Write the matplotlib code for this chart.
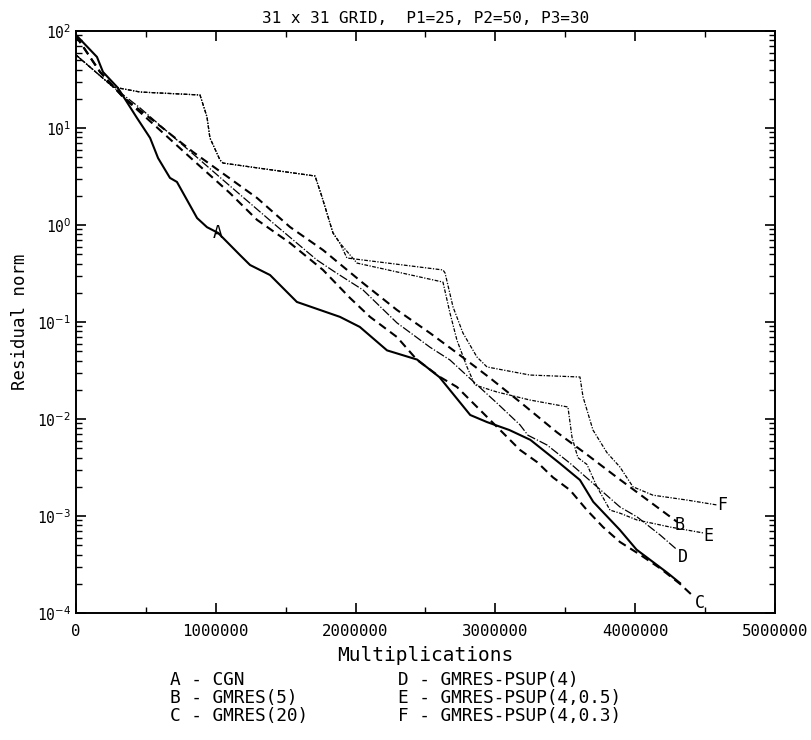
import matplotlib
matplotlib.use("Agg")
import matplotlib.pyplot as plt
from matplotlib.ticker import LogLocator, NullFormatter, MultipleLocator

plt.rcParams['font.family'] = ['DejaVu Sans Mono']
plt.rcParams['mathtext.fontset'] = 'dejavusans'

# residual norm vs. multiplications (x in millions)
a_x = [0.0, 0.15, 0.193, 0.30, 0.436, 0.53, 0.587, 0.672, 0.722, 0.866, 0.937, 1.016,
       1.173, 1.245, 1.388, 1.58, 1.888, 2.03, 2.225, 2.44, 2.60, 2.82, 2.94, 3.10,
       3.25, 3.46, 3.605, 3.70, 3.89, 4.01, 4.23, 4.32]
a_y = [91, 54, 37.8, 25.9, 12.7, 7.9, 4.9, 3.06, 2.78, 1.18, 0.95, 0.83,
       0.49, 0.387, 0.305, 0.161, 0.113, 0.089, 0.051, 0.041, 0.027, 0.011, 0.0093, 0.0077,
       0.0061, 0.0035, 0.00235, 0.0014, 7.2e-4, 4.5e-4, 2.6e-4, 2.04e-4]

b_x = [0.0, 0.172, 0.336, 0.601, 0.837, 1.295, 1.531, 1.767, 2.053, 2.296, 2.532, 2.725,
       2.961, 3.176, 3.44, 3.655, 3.87, 4.106, 4.30]
b_y = [88.7, 37.8, 20.9, 10.5, 5.66, 1.90, 0.953, 0.552, 0.252, 0.133, 0.077, 0.048,
       0.0265, 0.015, 0.0073, 0.0043, 0.0025, 0.0014, 8.7e-4]

c_x = [0.0, 0.172, 0.336, 0.601, 0.837, 1.10, 1.295, 1.531, 1.767, 1.96, 2.103, 2.296,
       2.44, 2.604, 2.725, 2.89, 3.054, 3.176, 3.298, 3.412, 3.534, 3.655, 3.77, 3.891,
       4.034, 4.177, 4.32, 4.413]
c_y = [88.7, 37.8, 20.9, 9.5, 4.68, 2.14, 1.13, 0.652, 0.344, 0.177, 0.113, 0.070,
       0.0406, 0.0271, 0.0214, 0.0124, 0.0072, 0.0048, 0.0036, 0.0025, 0.00185, 0.00115, 7.7e-4, 5.4e-4,
       4.0e-4, 2.9e-4, 2.0e-4, 1.5e-4]

d_x = [0.0, 0.265, 0.458, 1.052, 1.409, 1.724, 1.853, 2.053, 2.296, 2.532, 2.675, 2.854,
       3.011, 3.176, 3.233, 3.369, 3.534, 3.727, 3.891, 4.013, 4.177, 4.299]
d_y = [56.6, 26.5, 16.1, 2.91, 1.05, 0.435, 0.327, 0.214, 0.098, 0.055, 0.0406, 0.0235,
       0.0146, 0.0087, 0.0068, 0.0054, 0.0035, 0.0020, 0.00124, 9.8e-4, 6.4e-4, 4.5e-4]

e_x = [0.0, 0.265, 0.458, 0.887, 0.937, 0.958, 1.03, 1.052, 1.71, 1.76, 1.838, 1.888,
       2.01, 2.625, 2.675, 2.725, 2.797, 2.854, 3.011, 3.247, 3.519, 3.548, 3.59, 3.655,
       3.727, 3.82, 3.891, 4.013, 4.249, 4.485]
e_y = [56.6, 26.5, 23.5, 21.9, 13.0, 7.9, 4.68, 4.35, 3.2, 1.94, 0.83, 0.65,
       0.405, 0.258, 0.124, 0.065, 0.0344, 0.0224, 0.019, 0.0157, 0.0133, 0.0065, 0.004, 0.0034,
       0.0020, 0.00115, 0.00107, 9.1e-4, 7.7e-4, 6.7e-4]

f_x = [0.0, 0.265, 0.458, 0.887, 0.937, 0.958, 1.03, 1.052, 1.71, 1.76, 1.838, 1.888,
       1.938, 2.625, 2.64, 2.697, 2.768, 2.868, 2.94, 3.247, 3.605, 3.627, 3.698, 3.798,
       3.891, 3.984, 4.127, 4.371, 4.585]
f_y = [56.6, 26.5, 23.5, 21.9, 13.0, 7.9, 4.68, 4.35, 3.2, 1.94, 0.83, 0.65,
       0.457, 0.344, 0.32, 0.143, 0.077, 0.0436, 0.0344, 0.0284, 0.0271, 0.0169, 0.0077, 0.0045,
       0.0032, 0.0020, 0.00164, 0.00146, 0.0013]

x_ticks = [0, 1000000, 2000000, 3000000, 4000000, 5000000]
x_labels = ['0', '1000000', '2000000', '3000000', '4000000', '5000000']
legend_left = ['A - CGN', 'B - GMRES(5)', 'C - GMRES(20)']
legend_right = ['D - GMRES-PSUP(4)', 'E - GMRES-PSUP(4,0.5)', 'F - GMRES-PSUP(4,0.3)']

M = 1e6
fig = plt.figure(figsize=(8.12, 7.4), dpi=100)
ax = fig.add_axes([0.0936, 0.1716, 0.8608, 0.7865])

ax.plot([v * M for v in a_x], a_y, color='black', lw=1.5)
ax.plot([v * M for v in b_x], b_y, color='black', lw=1.5, dashes=(4, 2.5))
ax.plot([v * M for v in c_x], c_y, color='black', lw=1.5, dashes=(4, 2.5))
ax.plot([v * M for v in d_x], d_y, color='black', lw=0.9, dashes=(7, 1.5, 1, 1.5))
ax.plot([v * M for v in e_x], e_y, color='black', lw=0.9, dashes=(3, 1.2, 1, 1.2))
ax.plot([v * M for v in f_x], f_y, color='black', lw=0.9, dashes=(3, 1.2, 1, 1.2))

# curve letters
lab = dict(fontsize=12, color='black', va='center', ha='center')
ax.annotate('A', (a_x[11] * M, a_y[11]), **lab)
ax.annotate('B', (b_x[-1] * M, b_y[-1]), xytext=(2, -2), textcoords='offset points', **lab)
ax.annotate('C', (c_x[-1] * M, c_y[-1]), xytext=(5, -5), textcoords='offset points', **lab)
ax.annotate('D', (d_x[-1] * M, d_y[-1]), xytext=(4, -5), textcoords='offset points', **lab)
ax.annotate('E', (e_x[-1] * M, e_y[-1]), xytext=(4, -2), textcoords='offset points', **lab)
ax.annotate('F', (f_x[-1] * M, f_y[-1]), xytext=(4, 0), textcoords='offset points', **lab)

ax.set_yscale('log')
ax.set_xlim(0, 5000000)
ax.set_ylim(1e-4, 1e2)
ax.set_xticks(x_ticks)
ax.set_xticklabels(x_labels)
ax.xaxis.set_minor_locator(MultipleLocator(500000))
ax.set_yticks([10.0 ** k for k in range(-4, 3)])
ax.set_yticklabels(['10$^{%d}$' % k for k in range(-4, 3)])
ax.yaxis.set_minor_locator(LogLocator(base=10, subs=range(2, 10), numticks=20))
ax.yaxis.set_minor_formatter(NullFormatter())

ax.tick_params(which='both', direction='in', top=True, right=True, labelsize=10.5)
ax.tick_params(axis='x', labelsize=11.3, pad=8)
ax.tick_params(which='major', length=7, width=1.2)
ax.tick_params(which='minor', length=4, width=1.0)
for s in ax.spines.values():
    s.set_linewidth(1.4)

ax.set_title('31 x 31 GRID,  P1=25, P2=50, P3=30', fontsize=11.5, pad=6)
ax.set_xlabel('Multiplications', fontsize=14, labelpad=5)
ax.set_ylabel('Residual norm', fontsize=12.5, labelpad=6)

for i, t in enumerate(legend_left):
    fig.text(0.209, 0.081 - i * 0.0245, t, fontsize=12.8, va='center')
for i, t in enumerate(legend_right):
    fig.text(0.49, 0.081 - i * 0.0245, t, fontsize=12.8, va='center')

fig.savefig('out.png', dpi=100)
